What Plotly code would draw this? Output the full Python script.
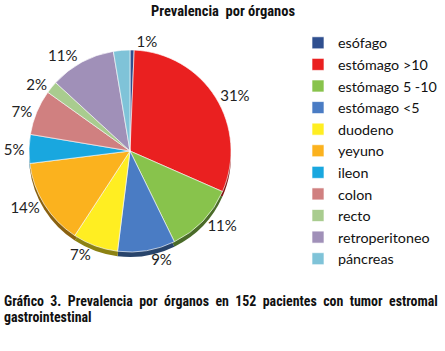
import plotly.graph_objects as go

labels = ["esófago", "estómago >10", "estómago 5 -10", "estómago <5", "duodeno",
          "yeyuno", "ileon", "colon", "recto", "retroperitoneo", "páncreas"]
counts = [1, 47, 17, 14, 11, 21, 7, 11, 3, 16, 4]
shown_pct = ["1%", "31%", "11%", "9%", "7%", "14%", "5%", "7%", "2%", "11%", ""]
colors = ["#2F4F8F", "#EA2020", "#88C34C", "#4A7CC4", "#FFEE22", "#FBB21E",
          "#19A7DF", "#D08080", "#A9CC8F", "#A090B8", "#7FC3D8"]

title_text = "Prevalencia  por órganos"
caption_1 = "Gráfico 3. Prevalencia por órganos en 152 pacientes con tumor estromal"
caption_2 = "gastrointestinal"


def darker(h, f=0.55):
    r, g, b = int(h[1:3], 16), int(h[3:5], 16), int(h[5:7], 16)
    return "rgb(%d,%d,%d)" % (r * f, g * f, b * f)


W, H = 445, 351
cx, cy, R = 130, 151, 101
dom_x = [(cx - R) / W, (cx + R) / W]
dom_y = [1 - (cy + R) / H, 1 - (cy - R) / H]
depth = 5 / H

fig = go.Figure()
# depth layer to mimic the 3D rim of the original
fig.add_trace(go.Pie(
    labels=labels, values=counts, sort=False, direction="clockwise", rotation=0,
    marker=dict(colors=[darker(c) for c in colors], line=dict(width=0)),
    textinfo="none", hoverinfo="skip", showlegend=False,
    domain=dict(x=dom_x, y=[dom_y[0] - depth, dom_y[1] - depth]),
))
fig.add_trace(go.Pie(
    labels=labels, values=counts, text=shown_pct,
    texttemplate="%{text}", textposition="outside",
    sort=False, direction="clockwise", rotation=0,
    marker=dict(colors=colors, line=dict(color="rgba(255,255,255,0.8)", width=0.8)),
    textfont=dict(family="Lato, sans-serif", size=15, color="#222"),
    domain=dict(x=dom_x, y=dom_y),
))

cond = "Roboto Condensed, Liberation Sans Narrow, sans-serif"
cap_font = dict(family=cond, size=13.9, color="#111")
line1 = " \u00a0".join(caption_1.split(" "))

fig.update_layout(
    width=W, height=H,
    margin=dict(l=0, r=0, t=0, b=0),
    paper_bgcolor="white", plot_bgcolor="white",
    showlegend=True,
    legend=dict(x=298 / W, y=1 - 27 / H, xanchor="left", yanchor="top",
                font=dict(family="Lato, sans-serif", size=14.3, color="#111"),
                itemwidth=30, tracegroupgap=0),
    annotations=[
        dict(text="<b>" + title_text + "</b>", x=0.5, y=1 - 11 / H, xref="paper", yref="paper",
             xanchor="center", yanchor="middle", showarrow=False,
             font=dict(family=cond, size=14.5, color="#111")),
        dict(text="<b>" + line1 + "</b>", x=0.005, y=1 - 301 / H, xref="paper", yref="paper",
             xanchor="left", yanchor="middle", showarrow=False, font=cap_font),
        dict(text="<b>" + caption_2 + "</b>", x=0.005, y=1 - 317 / H, xref="paper", yref="paper",
             xanchor="left", yanchor="middle", showarrow=False, font=cap_font),
    ],
)

fig.write_html("out.html", config={"displayModeBar": False},
               post_script="document.body.style.margin='0';document.body.style.overflow='hidden';")
